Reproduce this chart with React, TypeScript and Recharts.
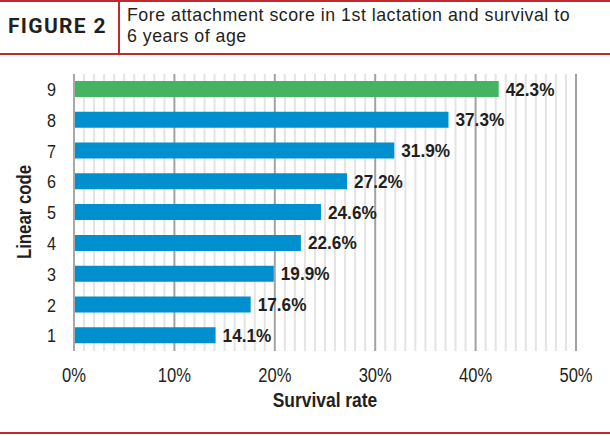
import { Bar, BarChart, CartesianGrid, Cell, LabelList, XAxis, YAxis } from "recharts";

const codes = ["1", "2", "3", "4", "5", "6", "7", "8", "9"];
const survival = [14.1, 17.6, 19.9, 22.6, 24.6, 27.2, 31.9, 37.3, 42.3];
const xTicks = Array.from({ length: 51 }, (_, i) => i); // 1% minor steps
const labelEvery = 10;
const highlightCode = "9";
const titleLines = ["Fore attachment score in 1st lactation and survival to", "6 years of age"];

const data = codes.map((c, i) => ({ code: c, rate: survival[i] }));

const RED = "#be2a2e";
const INK = "#231f20";
const SANS = "'Liberation Sans', Arial, sans-serif";

// no narrow font installed, so squeeze Liberation Sans horizontally
function XTick({ x, y, payload }: any) {
  if (payload.value % labelEvery !== 0) return null;
  return (
    <g transform={`translate(${x},${y}) scale(0.85,1)`}>
      <text textAnchor="middle" dy="0.71em" fontFamily={SANS} fontSize={19.5} fill={INK}>
        {`${payload.value}%`}
      </text>
    </g>
  );
}

function YTick({ x, y, payload }: any) {
  return (
    <g transform={`translate(${x},${y}) scale(0.85,1)`}>
      <text textAnchor="end" dy="0.355em" fontFamily={SANS} fontSize={19} fill={INK}>
        {payload.value}
      </text>
    </g>
  );
}

function GridLine(props: any) {
  const { x1, y1, x2, y2, index } = props;
  const major = xTicks[index] % labelEvery === 0;
  return (
    <line
      x1={x1}
      y1={y1}
      x2={x2}
      y2={y2}
      stroke={major ? "#a2a2a6" : "#e4e4e4"}
      strokeWidth={2}
    />
  );
}

function ValueLabel({ x, y, width, height, value }: any) {
  const lx = x + width + 7;
  const ly = y + height / 2;
  return (
    <g transform={`translate(${lx},${ly}) scale(0.93,1)`}>
      <text dy="0.355em" fontFamily={SANS} fontSize={18.5} fontWeight={700} fill={INK}>
        {`${Number(value).toFixed(1)}%`}
      </text>
    </g>
  );
}

export default function App() {
  return (
    <div
      style={{
        position: "absolute",
        left: 0,
        top: 0,
        width: 610,
        height: 436,
        background: "#fff",
        overflow: "hidden",
      }}
    >
      {/* header strip */}
      <div
        style={{
          position: "absolute",
          left: 0,
          top: 0,
          width: 610,
          height: 55,
          borderTop: `2px solid ${RED}`,
          borderBottom: `2px solid ${RED}`,
          boxSizing: "border-box",
        }}
      />
      <div style={{ position: "absolute", left: 118, top: 0, width: 2, height: 54, background: RED }} />
      <div
        style={{
          position: "absolute",
          left: 8,
          top: 14,
          fontFamily: "Roboto, sans-serif",
          fontWeight: 700,
          fontSize: 21,
          letterSpacing: 1.3,
          color: INK,
        }}
      >
        FIGURE 2
      </div>
      {titleLines.map((line, i) => (
        <div
          key={i}
          style={{
            position: "absolute",
            left: 127,
            top: 5 + i * 21,
            height: 21,
            fontFamily: "'Liberation Sans', Arial, sans-serif",
            fontSize: 17.8,
            letterSpacing: 0.5,
            lineHeight: "21px",
            color: INK,
            whiteSpace: "nowrap",
          }}
        >
          {line}
        </div>
      ))}
      {/* bottom rule */}
      <div style={{ position: "absolute", left: 0, top: 432, width: 610, height: 2, background: RED }} />

      <div style={{ position: "absolute", left: 0, top: 0 }}>
        <BarChart
          width={610}
          height={436}
          data={data}
          layout="vertical"
          margin={{ top: 74, right: 34, bottom: 15, left: 4 }}
          barSize={16}
        >
          <CartesianGrid horizontal={false} vertical={<GridLine />} />
          <XAxis
            type="number"
            domain={[0, 50]}
            ticks={xTicks}
            interval={0}
            axisLine={false}
            tickLine={false}
            tickSize={0}
            tickMargin={17}
            height={70}
            tick={<XTick />}
          />
          <YAxis
            type="category"
            dataKey="code"
            reversed
            width={70}
            axisLine={{ stroke: "#a8a8ab", strokeWidth: 2 }}
            tickLine={false}
            tickSize={0}
            tickMargin={18}
            tick={<YTick />}
          />
          <Bar dataKey="rate" isAnimationActive={false}>
            {data.map((d) => (
              <Cell key={d.code} fill={d.code === highlightCode ? "#45b461" : "#0090cf"} />
            ))}
            <LabelList dataKey="rate" content={<ValueLabel />} />
          </Bar>
          <text
            x={0}
            y={0}
            textAnchor="middle"
            transform="translate(325,407) scale(0.83,1)"
            fontFamily={SANS}
            fontSize={21}
            fontWeight={700}
            fill={INK}
          >
            Survival rate
          </text>
          <text
            x={0}
            y={0}
            textAnchor="middle"
            transform="translate(31,212) rotate(-90) scale(0.8,1)"
            fontFamily={SANS}
            fontSize={21}
            fontWeight={700}
            fill={INK}
          >
            Linear code
          </text>
        </BarChart>
      </div>
    </div>
  );
}
